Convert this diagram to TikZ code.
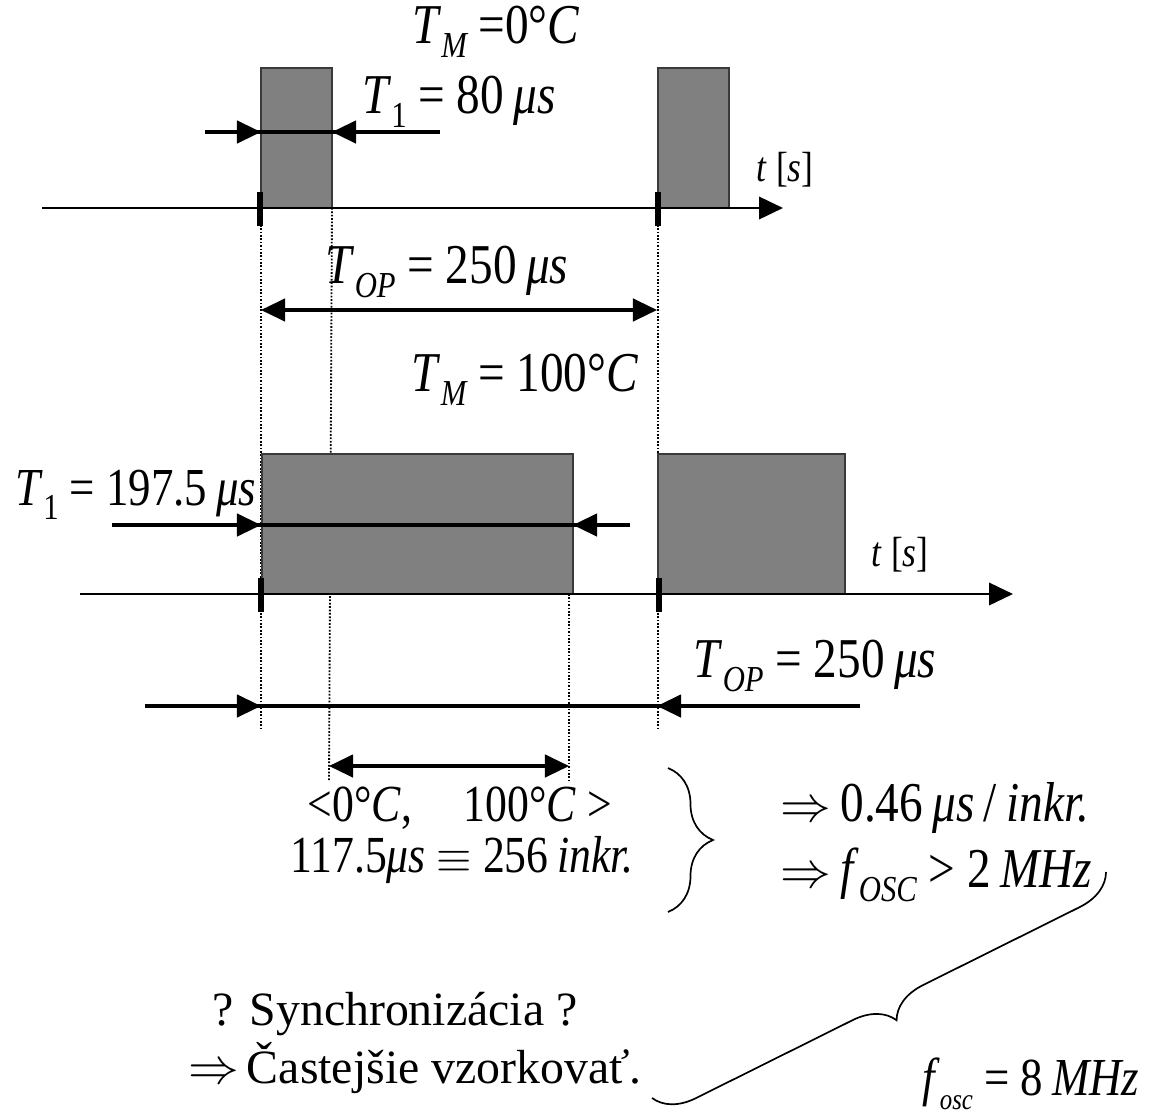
\documentclass[tikz,border=0pt]{standalone}
\usepackage{fontspec}
\setmainfont{Liberation Serif}[FakeStretch=0.84]
\newfontfamily\wideserif{Liberation Serif}
\usetikzlibrary{arrows.meta, decorations.pathreplacing}
\definecolor{pulsegray}{HTML}{808080}
\definecolor{pulseedge}{HTML}{3A3A3A}
\newcommand{\sbs}[1]{\raisebox{-0.55ex}{\fontsize{26}{26}\selectfont\itshape #1}}
\newcommand{\mus}{\textit{μs}}
\newcommand{\implies}{\scalebox{1.45}{$\Rightarrow$}}

\begin{document}
\begin{tikzpicture}[x=0.025cm, y=-0.025cm,
  >={Triangle[length=6mm, width=5.6mm]},
  lbl/.style={inner sep=0pt, font=\fontsize{40}{44}\selectfont},
  pulse/.style={fill=pulsegray, draw=pulseedge, line width=1pt},
  timeaxis/.style={line width=1.8pt, ->},
  dimline/.style={line width=2.2pt},
  guideline/.style={line width=1.3pt, dash pattern=on 1.2pt off 1.2pt},
  tickmark/.style={line width=4pt}]

\useasboundingbox (0,0) rectangle (1159,1119);

% --- Key points ---
\coordinate (s1) at (261,208);   % start of first pulse, upper axis
\coordinate (e1) at (332,208);   % end of 80us pulse
\coordinate (s2) at (658,208);   % start of next period, upper axis
\coordinate (m1) at (261,594);   % start of first pulse, lower axis
\coordinate (m2) at (573,594);   % end of 197.5us pulse
\coordinate (m3) at (658,594);   % start of next period, lower axis

% --- Dotted guide lines ---
\draw[guideline] (s1) -- (261,728);
\draw[guideline] (s2) -- (658,728);
\draw[guideline] (e1) -- (329,780);
\draw[guideline] (569,594) -- (569,780);

% --- Upper time axis (T_M = 0 C) ---
\draw[pulse] (261,68) rectangle (e1);
\draw[pulse] (658,68) rectangle (729,208);
\draw[timeaxis] (42,208) -- (783,208);
\draw[tickmark] (260,192) -- (260,226);
\draw[tickmark] (658,192) -- (658,226);

\draw[dimline] (205,132) -- (440,132);
\draw[dimline, ->] (205,132) -- (261,132);
\draw[dimline, ->] (440,132) -- (332,132);

\node[lbl] (tm0) at (496,32) {\textit{T}\sbs{M} =0°\textit{C}};
\node[lbl] (t1a) at (459,102) {\textit{T}\sbs{\upshape 1} = 80\,\mus};
\node[lbl, font=\fontsize{30}{34}\selectfont] (ts1) at (785,170) {\textit{t} [\textit{s}]};

% --- Period between the axes ---
\draw[dimline, <->] (261,310) -- (657,310);
\node[lbl] (top1) at (447,272) {\textit{T}\sbs{OP} = 250\,\mus};

% --- Lower time axis (T_M = 100 C) ---
\node[lbl] (tm100) at (525,380) {\textit{T}\sbs{M} = 100°\textit{C}};

\draw[pulse] (262,454) rectangle (m2);
\draw[pulse] (m3) ++(0,-140) rectangle (845,594);
\draw[timeaxis] (80,594) -- (1013,594);
\draw[tickmark] (261,578) -- (261,612);
\draw[tickmark] (659,578) -- (659,612);

\draw[dimline] (112,525) -- (630,525);
\draw[dimline, ->] (112,525) -- (261,525);
\draw[dimline, ->] (630,525) -- (573,525);

\node[lbl, font=\fontsize{38}{42}\selectfont] (t1b) at (136,495) {\textit{T}\sbs{\upshape 1} = 197.5\,\mus};
\node[lbl, font=\fontsize{30}{34}\selectfont] (ts2) at (900,555) {\textit{t} [\textit{s}]};

\draw[dimline] (145,706) -- (860,706);
\draw[dimline, ->] (145,706) -- (261,706);
\draw[dimline, ->] (860,706) -- (657,706);
\node[lbl] (top2) at (815,666) {\textit{T}\sbs{OP} = 250\,\mus};

% --- Measuring range ---
\draw[dimline, <->] (329,766) -- (569,766);
\node[lbl, font=\fontsize{37}{40}\selectfont] (range) at (460,808) {<0°\textit{C},\quad 100°\textit{C} >};
\node[lbl, font=\fontsize{37}{40}\selectfont] (incr) at (462,860) {117.5\mus\ \scalebox{1.3}{$\equiv$} 256\,\textit{inkr.}};

\draw[decorate, decoration={brace, amplitude=32pt}, line width=1.2pt]
  (668,768) -- (668,912);

\node[lbl, anchor=west] (res) at (780,808) {\implies\,0.46\,\mus\,/\,\textit{inkr.}};
\node[lbl, anchor=west] (fmin) at (780,875) {\implies\,\textit{f}\sbs{OSC} > 2\,\textit{MHz}};

% --- Conclusion ---
\draw[decorate, decoration={brace, amplitude=28pt}, line width=1.2pt]
  (1106,872) -- (652,1098);
\node[lbl, anchor=west, font=\fontsize{38}{42}\selectfont] (fosc) at (922,1084) {\textit{f}\sbs{\fontsize{21}{21}\selectfont osc} = 8\,\textit{MHz}};

\node[lbl, font=\fontsize{34}{38}\selectfont\wideserif] (sync) at (395,1014) {? Synchronizácia ?};
\node[lbl, font=\fontsize{34}{38}\selectfont\wideserif] (often) at (415,1068) {\implies\,Častejšie vzorkovať.};

\end{tikzpicture}
\end{document}
